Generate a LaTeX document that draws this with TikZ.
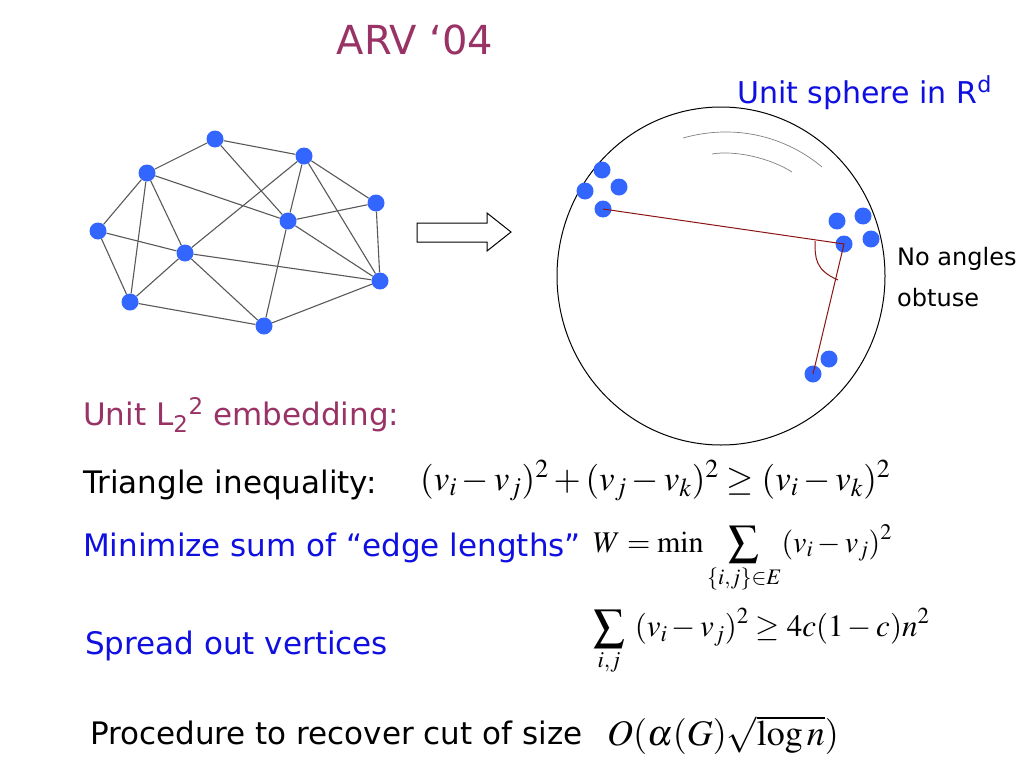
\documentclass[tikz,border=0pt]{standalone}
\usepackage{mathptmx}
\usepackage[no-math]{fontspec}
\setmainfont{DejaVu Sans}
\definecolor{tmaroon}{RGB}{153,51,102}
\definecolor{tblue}{RGB}{15,15,225}
\definecolor{nblue}{RGB}{51,102,255}
\definecolor{lred}{RGB}{140,20,20}
\begin{document}
\begin{tikzpicture}[x=1pt,y=-1pt,
  vtx/.style={circle,fill=nblue,inner sep=0pt,minimum size=17pt},
  pt/.style={circle,fill=nblue,inner sep=0pt,minimum size=17pt},
  edge/.style={draw=black!65,line width=1.1pt},
  txt/.style={anchor=west,inner sep=0pt,font=\fontsize{31}{36}\selectfont},
  mth/.style={anchor=west,inner sep=0pt,font=\fontsize{35}{40}\selectfont},
  small/.style={anchor=west,inner sep=0pt,font=\fontsize{24}{28}\selectfont}]
\useasboundingbox[fill=white] (0,0) rectangle (1024,768);

% title
\node[anchor=center,inner sep=0pt,text=tmaroon,font=\fontsize{40}{46}\selectfont] (title) at (415,40) {ARV ‘04};

% graph
\node[vtx] (A) at (215,139) {};
\node[vtx] (B) at (304,156) {};
\node[vtx] (C) at (147,173) {};
\node[vtx] (D) at (376,203) {};
\node[vtx] (E) at (288,221) {};
\node[vtx] (F) at (98,231) {};
\node[vtx] (G) at (185,253) {};
\node[vtx] (H) at (380,281) {};
\node[vtx] (I) at (130,302) {};
\node[vtx] (J) at (264,326) {};
\foreach \a/\b in {A/B,A/C,A/E,C/F,C/I,C/G,C/E,F/G,F/I,G/H,B/G,B/E,B/D,B/H,D/E,D/H,E/H,E/J,G/I,G/J,I/J,J/H}
  \draw[edge] (\a) -- (\b);

% block arrow
\draw[line width=1pt,fill=white] (417,223) -- (487,223) -- (487,213) -- (511,232) -- (487,251) -- (487,242) -- (417,242) -- cycle;

% sphere
\draw[line width=1pt] (721,276) ellipse (164 and 169);
\coordinate (a1s) at (683,138);
\coordinate (a1e) at (822,167);
\coordinate (a2s) at (712,154);
\coordinate (a2e) at (792,172);
\draw[gray,line width=0.7pt] (a1s) .. controls (740,122) and (790,140) .. (a1e);
\draw[gray,line width=0.7pt] (a2s) .. controls (735,150) and (770,158) .. (a2e);

\node[pt] (p1) at (602,170) {};
\node[pt] (p2) at (585,191) {};
\node[pt] (p3) at (619,187) {};
\node[pt] (p4) at (603,209) {};
\node[pt] (q1) at (837,221) {};
\node[pt] (q2) at (863,216) {};
\node[pt] (q3) at (844,244) {};
\node[pt] (q4) at (871,239) {};
\node[pt] (r1) at (829,359) {};
\node[pt] (r2) at (813,374) {};
\draw[lred,line width=1pt] (p4.center) -- (q3.center) -- (r2.center);
\coordinate (angA) at (815,241);
\coordinate (angB) at (838,280);
\draw[lred,line width=1pt] (angA) .. controls (815,258) and (815,270) .. (angB);

\node[anchor=west,inner sep=0pt,text=tblue,font=\fontsize{30}{34}\selectfont] (sph) at (737,93) {Unit sphere in R\textsuperscript{d}};
\node[small] (na) at (897,259) {No angles};
\node[small] (nb) at (897,298) {obtuse};

% text lines
\node[txt,text=tmaroon] (emb) at (83,415) {Unit L\textsubscript{2}\textsuperscript{2} embedding:};
\node[txt] (tri) at (83,485) {Triangle inequality:};
\node[mth] (f1) at (420,481) {$(v_i - v_j)^2 + (v_j - v_k)^2 \geq (v_i - v_k)^2$};
\node[mth,font=\fontsize{30}{34}\selectfont] (f2) at (593,559) {$\displaystyle W = \min \sum_{\{i,j\}\in E} (v_i - v_j)^2$};
\node[txt,text=tblue] (mini) at (83,548) {Minimize sum of “edge lengths”};
\node[txt,text=tblue] (spr) at (85,646) {Spread out vertices};
\node[mth,font=\fontsize{31}{36}\selectfont] (f3) at (593,642) {$\displaystyle \sum_{i,j}\ (v_i - v_j)^2 \geq 4c(1-c)n^2$};
\node[txt] (proc) at (90,733) {Procedure to recover cut of size};
\node[mth,font=\fontsize{36}{40}\selectfont] (f4) at (607,735) {$O(\alpha(G)\sqrt{\log n})$};
\end{tikzpicture}
\end{document}
